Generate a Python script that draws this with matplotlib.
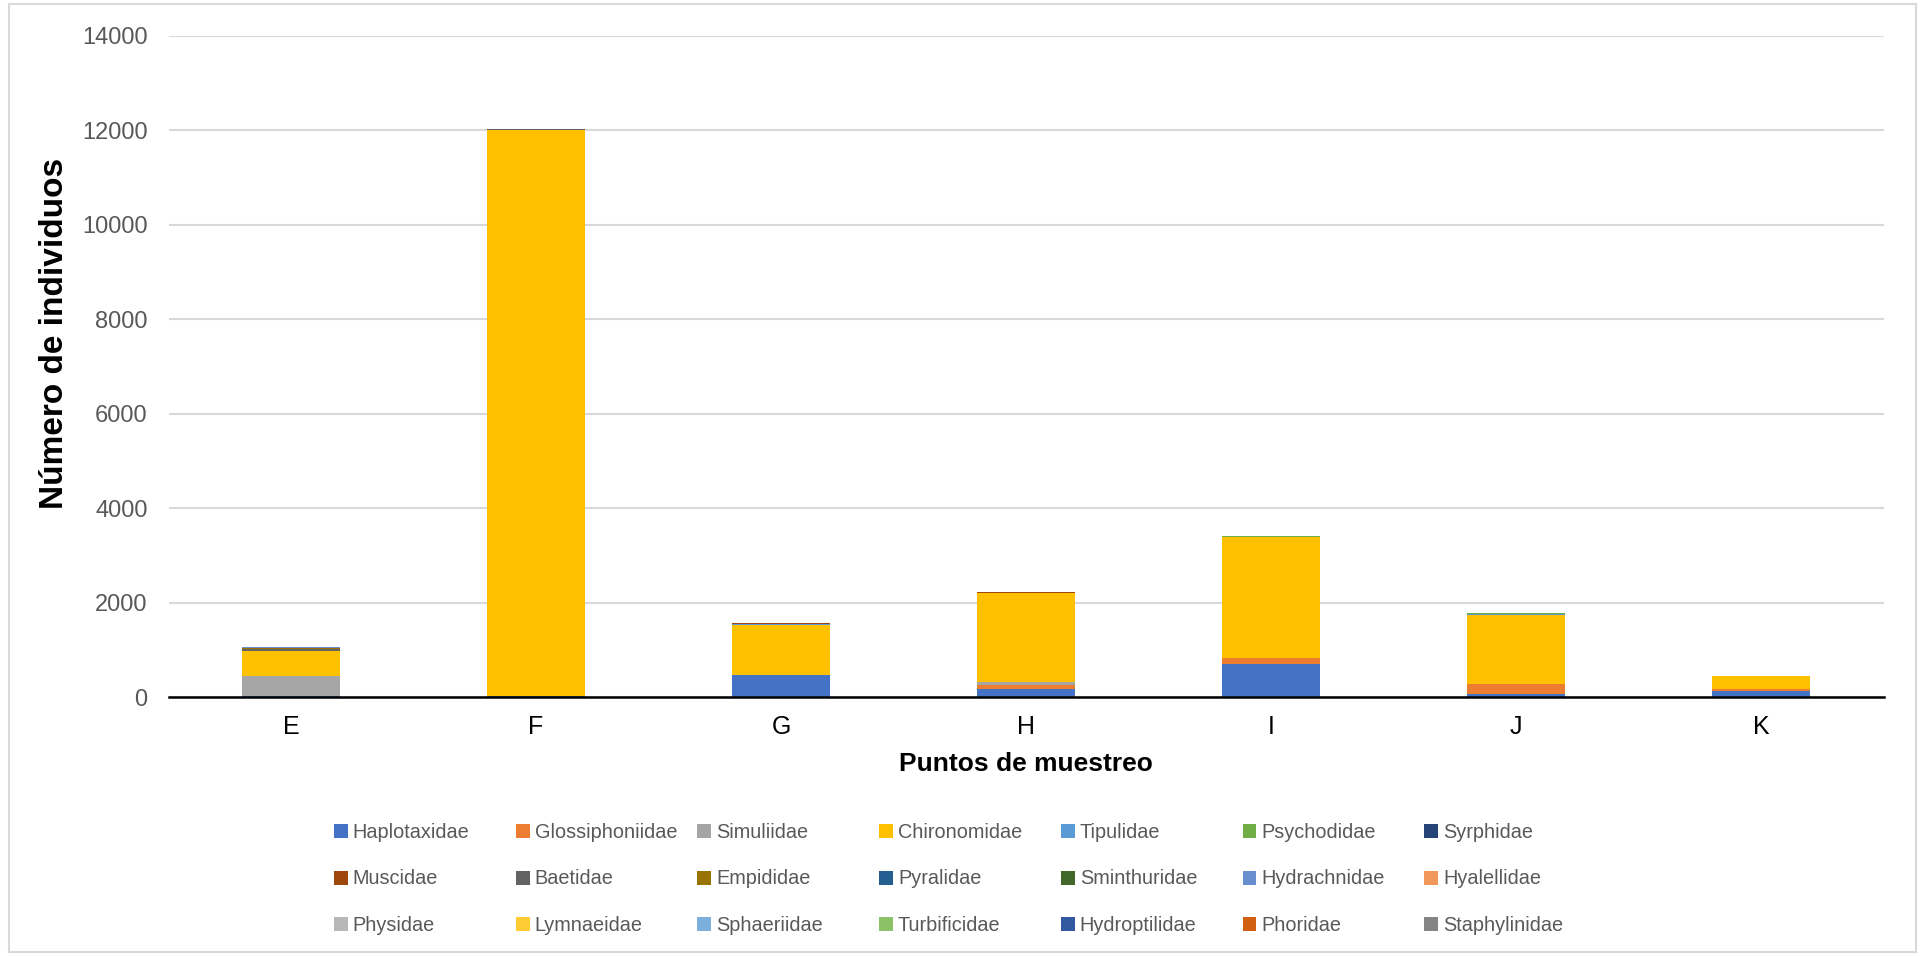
import matplotlib
matplotlib.use("Agg")
import matplotlib.pyplot as plt
import numpy as np
from matplotlib.patches import Rectangle

plt.rcParams['font.family'] = ['Liberation Sans', 'DejaVu Sans']

# Sampling points
sites = ["E", "F", "G", "H", "I", "J", "K"]

# Families (series order) and their colours
families = [
    "Haplotaxidae", "Glossiphoniidae", "Simuliidae", "Chironomidae", "Tipulidae",
    "Psychodidae", "Syrphidae", "Muscidae", "Baetidae", "Empididae", "Pyralidae",
    "Sminthuridae", "Hydrachnidae", "Hyalellidae", "Physidae", "Lymnaeidae",
    "Sphaeriidae", "Turbificidae", "Hydroptilidae", "Phoridae", "Staphylinidae",
]
colors = [
    "#4472C4", "#ED7D31", "#A5A5A5", "#FFC000", "#5B9BD5",
    "#70AD47", "#264478", "#9E480E", "#636363", "#997300", "#255E91",
    "#43682B", "#698ED0", "#F1975A", "#B7B7B7", "#FFCD33",
    "#7CAFDD", "#8CC168", "#335AA1", "#D26012", "#848484",
]

# Number of individuals per family at E, F, G, H, I, J, K
haplotaxidae    = [20, 15, 465, 165, 700, 70, 120]
glossiphoniidae = [0, 0, 0, 90, 135, 210, 40]
simuliidae      = [430, 0, 0, 70, 0, 0, 0]
chironomidae    = [525, 11985, 1060, 1885, 2550, 1460, 275]
tipulidae       = [0, 0, 20, 0, 0, 20, 0]
psychodidae     = [0, 0, 0, 0, 20, 15, 0]
syrphidae       = [0, 0, 0, 0, 0, 0, 0]
muscidae        = [0, 0, 20, 20, 0, 0, 0]
baetidae        = [40, 35, 0, 0, 0, 0, 0]
empididae       = [20, 0, 0, 0, 0, 0, 0]
pyralidae       = [0, 0, 0, 0, 0, 0, 20]
sminthuridae    = [0, 0, 0, 0, 0, 0, 0]
hydrachnidae    = [20, 0, 0, 0, 0, 0, 0]
hyalellidae     = [0, 0, 0, 0, 0, 0, 0]
physidae        = [0, 0, 0, 0, 0, 0, 0]
lymnaeidae      = [0, 0, 0, 0, 0, 0, 0]
sphaeriidae     = [0, 0, 0, 0, 0, 0, 0]
turbificidae    = [0, 0, 0, 0, 0, 0, 0]
hydroptilidae   = [0, 0, 0, 0, 0, 0, 0]
phoridae        = [0, 0, 0, 0, 0, 0, 0]
staphylinidae   = [0, 0, 0, 0, 0, 0, 0]

series = [
    haplotaxidae, glossiphoniidae, simuliidae, chironomidae, tipulidae,
    psychodidae, syrphidae, muscidae, baetidae, empididae, pyralidae,
    sminthuridae, hydrachnidae, hyalellidae, physidae, lymnaeidae,
    sphaeriidae, turbificidae, hydroptilidae, phoridae, staphylinidae,
]

W, H = 1925, 956
fig = plt.figure(figsize=(W / 100, H / 100), dpi=100)
ax_left, ax_right, ax_bottom, ax_top = 168.5, 1883.5, 697.0, 35.7
ax = fig.add_axes([ax_left / W, 1 - ax_bottom / H,
                   (ax_right - ax_left) / W, (ax_bottom - ax_top) / H])

x = np.arange(len(sites))
bottom = np.zeros(len(sites))
handles = []
for name, vals, col in zip(families, series, colors):
    vals = np.array(vals, dtype=float)
    h = ax.bar(x, vals, width=0.4, bottom=bottom, color=col, label=name,
               edgecolor="none", zorder=3)
    handles.append(h)
    bottom += vals

ax.set_xlim(-0.5, len(sites) - 0.5)
ax.set_ylim(0, 14000)
ax.set_yticks(np.arange(0, 14001, 2000))
ax.set_xticks(x)
ax.set_xticklabels(sites)
ax.grid(axis="y", color="#D9D9D9", linewidth=1.5, zorder=0)
ax.set_axisbelow(True)
for s in ("left", "right", "top"):
    ax.spines[s].set_visible(False)
ax.spines["bottom"].set_color("#000000")
ax.spines["bottom"].set_linewidth(1.8)
ax.spines["bottom"].set_zorder(4)
ax.tick_params(axis="y", length=0, pad=15, labelsize=17, labelcolor="#595959")
ax.tick_params(axis="x", length=0, pad=13, labelsize=18, labelcolor="#000000")

ax.set_xlabel("Puntos de muestreo", fontsize=19, fontweight="bold", labelpad=9)
ax.set_ylabel("Número de individuos", fontsize=24, fontweight="bold", va="center")
ax.yaxis.set_label_coords((55 - ax_left) / (ax_right - ax_left),
                          (ax_bottom - 333) / (ax_bottom - ax_top))

# Legend: 7 equally spaced columns, 3 rows
fs = 14.3
for c in range(7):
    col_h = [handles[r * 7 + c] for r in range(3)]
    col_l = [families[r * 7 + c] for r in range(3)]
    xl = (334 + 181.7 * c) / W
    fig.legend(col_h, col_l, loc="center left", bbox_to_anchor=(xl, 1 - 879 / H),
               frameon=False, fontsize=fs, labelcolor="#595959",
               handlelength=0.7, handleheight=0.7, handletextpad=0.25,
               labelspacing=1.4, borderpad=0, borderaxespad=0)

# Light chart frame
fig.patches.append(Rectangle((9 / W, 4 / H), (1916 - 9) / W, (952 - 4) / H,
                             transform=fig.transFigure, fill=False,
                             edgecolor="#D9D9D9", linewidth=1.5))

fig.savefig("out.png", dpi=100)
